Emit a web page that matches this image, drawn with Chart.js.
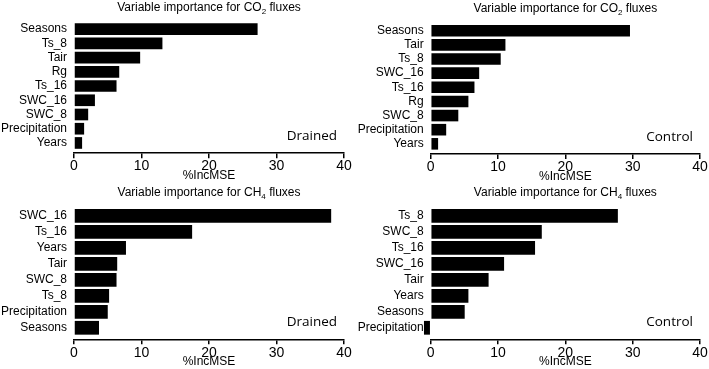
<!DOCTYPE html>
<html>
<head>
<meta charset="utf-8">
<script src="https://cdn.jsdelivr.net/npm/chart.js@4.4.0/dist/chart.umd.min.js"></script>
<style>
  body { margin: 0; background: #fff; }
  #wrap { position: relative; width: 709px; height: 369px; overflow: hidden; }
  canvas { position: absolute; }
</style>
</head>
<body>
<div id="wrap">
  <canvas id="c1" width="354" height="184" style="left:0;top:0"></canvas>
  <canvas id="c2" width="355" height="184" style="left:354px;top:0"></canvas>
  <canvas id="c3" width="354" height="185" style="left:0;top:184px"></canvas>
  <canvas id="c4" width="355" height="185" style="left:354px;top:184px"></canvas>
</div>
<script>
// values (%IncMSE)
const co2DrainedLabels = ['Seasons', 'Ts_8', 'Tair', 'Rg', 'Ts_16', 'SWC_16', 'SWC_8', 'Precipitation', 'Years'];
const co2DrainedValues = [27.2, 13.1, 9.8, 6.7, 6.3, 3.1, 2.1, 1.5, 1.2];

const co2ControlLabels = ['Seasons', 'Tair', 'Ts_8', 'SWC_16', 'Ts_16', 'Rg', 'SWC_8', 'Precipitation', 'Years'];
const co2ControlValues = [29.6, 11.1, 10.4, 7.2, 6.5, 5.6, 4.1, 2.3, 1.1];

const ch4DrainedLabels = ['SWC_16', 'Ts_16', 'Years', 'Tair', 'SWC_8', 'Ts_8', 'Precipitation', 'Seasons'];
const ch4DrainedValues = [38.1, 17.5, 7.7, 6.4, 6.3, 5.2, 5.0, 3.7];

const ch4ControlLabels = ['Ts_8', 'SWC_8', 'Ts_16', 'SWC_16', 'Tair', 'Years', 'Seasons', 'Precipitation'];
const ch4ControlValues = [27.8, 16.5, 15.5, 10.9, 8.6, 5.6, 5.05, -1.0];

const xMin = 0, xMax = 40, xStep = 10;
const xTitle = '%IncMSE';

const sansFont = "'Liberation Sans', Arial, sans-serif";

// title with subscript, centred over the plot area, plus the site label
const panelText = {
    id: 'panelText',
    afterDraw(chart, args, opts) {
        const ctx = chart.ctx;
        const area = chart.chartArea;
        ctx.save();
        ctx.fillStyle = '#000';
        ctx.textBaseline = 'alphabetic';
        ctx.textAlign = 'left';
        const big = '12px ' + sansFont, small = '8px ' + sansFont;
        ctx.font = big;
        const w1 = ctx.measureText(opts.pre).width;
        const w3 = ctx.measureText(opts.post).width;
        ctx.font = small;
        const w2 = ctx.measureText(opts.sub).width;
        let x = (area.left + area.right) / 2 - (w1 + w2 + w3) / 2;
        const y = area.top - 11.5;
        ctx.font = big;
        ctx.fillText(opts.pre, x, y);
        ctx.font = small;
        ctx.fillText(opts.sub, x + w1, y + 3);
        ctx.font = big;
        ctx.fillText(opts.post, x + w1 + w2, y);

        ctx.font = "13.5px 'Open Sans', 'Noto Sans', sans-serif";
        ctx.textAlign = 'right';
        ctx.fillText(opts.site, area.right - 7, area.bottom - 13);
        ctx.restore();
    }
};

function makeChart(id, labels, values, gas, site, pad, yWidth, xHeight, barPct) {
    // linear index axis so the bars can stop a little above the x axis line
    const points = values.map((v, i) => ({ x: v, y: i }));
    return new Chart(document.getElementById(id), {
        type: 'bar',
        data: {
            datasets: [{
                data: points,
                backgroundColor: '#000',
                borderWidth: 0,
                barPercentage: barPct,
                categoryPercentage: 1,
                clip: false
            }]
        },
        options: {
            indexAxis: 'y',
            responsive: false,
            animation: false,
            layout: { padding: pad },
            plugins: {
                legend: { display: false },
                tooltip: { enabled: false },
                panelText: { pre: 'Variable importance for ' + gas, sub: gas === 'CO' ? '2' : '4', post: ' fluxes', site: site }
            },
            scales: {
                x: {
                    type: 'linear',
                    min: xMin,
                    max: xMax,
                    ticks: { stepSize: xStep, color: '#000', padding: 0, font: { family: sansFont, size: 14 } },
                    grid: { drawOnChartArea: false, color: '#000', lineWidth: 1.5, tickLength: 5 },
                    border: { color: '#000', width: 1.5 },
                    title: { display: true, text: xTitle, color: '#000', padding: 0, font: { family: sansFont, size: 12 } },
                    afterFit: s => { s.height = xHeight; }
                },
                y: {
                    type: 'linear',
                    reverse: true,
                    offset: false,
                    min: -0.5,
                    max: labels.length - 0.5 + 0.22,
                    ticks: {
                        stepSize: 1,
                        includeBounds: false,
                        autoSkip: false,
                        color: '#000',
                        padding: 7,
                        font: { family: sansFont, size: 12 },
                        callback: v => labels[v] ?? ''
                    },
                    grid: { display: false, drawTicks: false, offset: false },
                    border: { display: false },
                    afterFit: s => { s.width = yWidth; }
                }
            }
        },
        plugins: [panelText]
    });
}

makeChart('c1', co2DrainedLabels, co2DrainedValues, 'CO', 'Drained',
    { top: 22, left: 0, right: 10, bottom: 1 }, 74, 29.8, 0.82);
makeChart('c2', co2ControlLabels, co2ControlValues, 'CO', 'Control',
    { top: 23.7, left: 0, right: 9, bottom: 0 }, 76.7, 30, 0.82);
makeChart('c3', ch4DrainedLabels, ch4DrainedValues, 'CH', 'Drained',
    { top: 23.8, left: 0, right: 10, bottom: 0 }, 74, 29.7, 0.86);
makeChart('c4', ch4ControlLabels, ch4ControlValues, 'CH', 'Control',
    { top: 23.8, left: 0, right: 9, bottom: 0 }, 76.7, 29.7, 0.86);
</script>
</body>
</html>
